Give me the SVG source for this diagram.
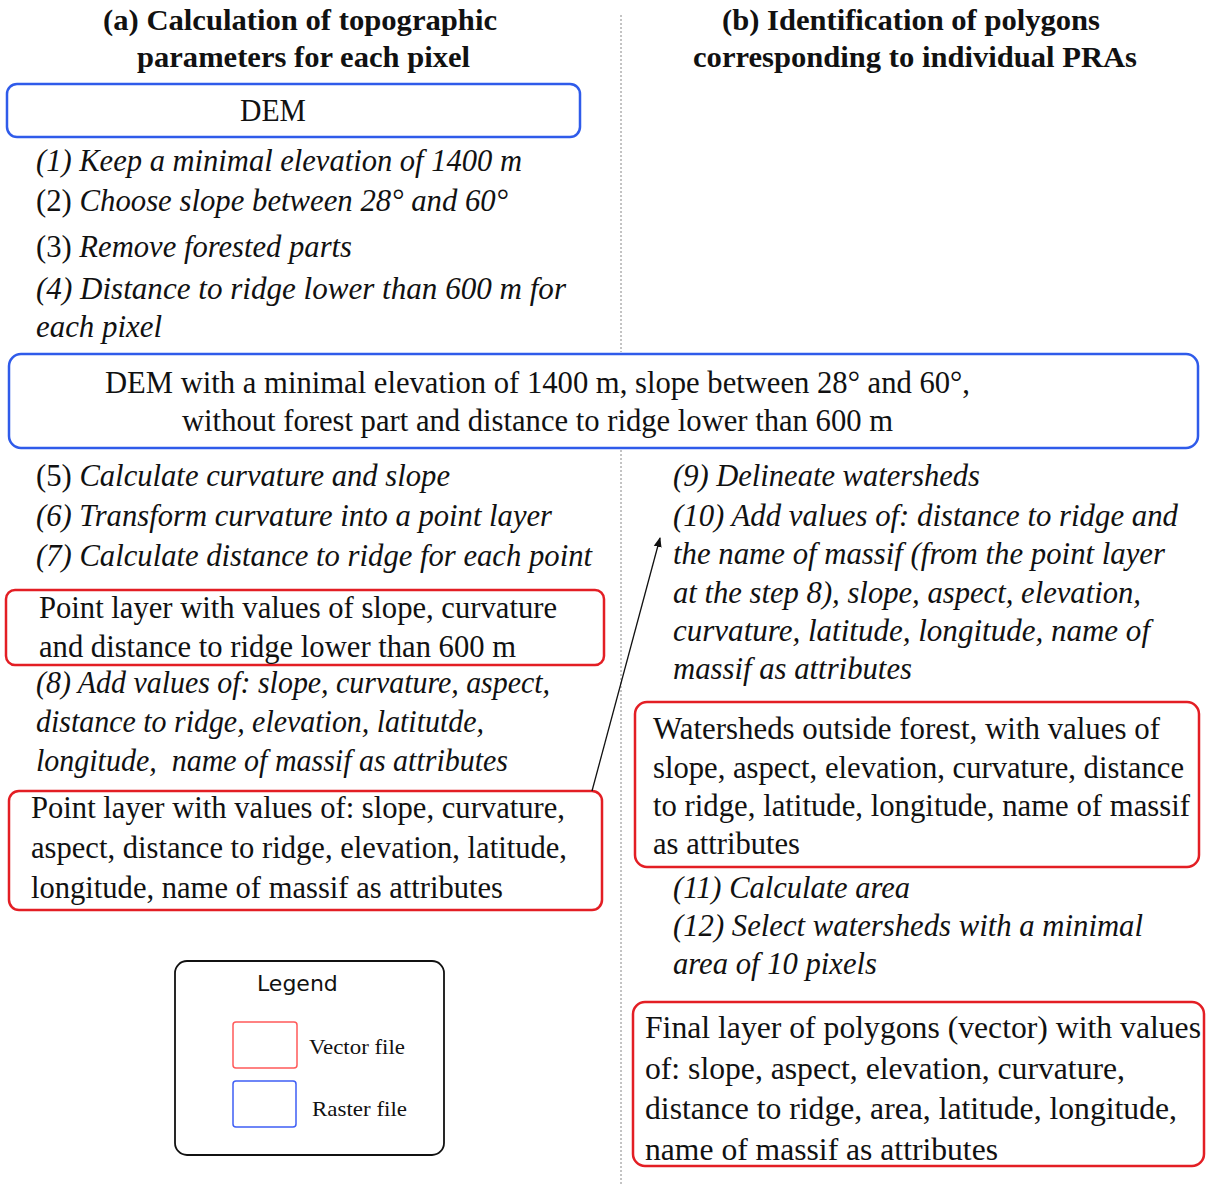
<svg xmlns="http://www.w3.org/2000/svg" width="1207" height="1184" viewBox="0 0 1207 1184">
<defs>
<style>
.t{font-family:"Liberation Serif","Times New Roman",serif;font-size:31px;fill:#111}
.i{font-style:italic}
.n{font-style:normal}
.h{font-weight:bold;font-size:30px}
.blue{fill:#fff;stroke:#2f5bea;stroke-width:2.5}
.red{fill:#fff;stroke:#e31e24;stroke-width:2.5}
.leg{font-family:"DejaVu Sans",sans-serif;font-size:22px;fill:#111}
.lt{font-family:"Liberation Serif",serif;font-size:22px;fill:#111}
</style>
<marker id="ah" viewBox="0 0 10 10" refX="9" refY="5" markerWidth="10" markerHeight="10" markerUnits="userSpaceOnUse" orient="auto">
<path d="M0,1 L10,5 L0,9 z" fill="#111"/>
</marker>
</defs>
<rect width="1207" height="1184" fill="#fff"/>
<g id="divider">
<line x1="621" y1="15" x2="621" y2="352" stroke="#888" stroke-width="1" stroke-dasharray="2,2"/>
<line x1="621" y1="450" x2="621" y2="1184" stroke="#888" stroke-width="1" stroke-dasharray="2,2"/>
</g>
<g id="title-a">
<text class="t h" x="103" y="30" textLength="394" lengthAdjust="spacingAndGlyphs">(a) Calculation of topographic</text>
<text class="t h" x="137" y="67" textLength="333" lengthAdjust="spacingAndGlyphs">parameters for each pixel</text>
</g>
<g id="title-b">
<text class="t h" x="722" y="30" textLength="378" lengthAdjust="spacingAndGlyphs">(b) Identification of polygons</text>
<text class="t h" x="693" y="67" textLength="444" lengthAdjust="spacingAndGlyphs">corresponding to individual PRAs</text>
</g>
<g id="dem">
<rect class="blue" x="7" y="84" width="573" height="53" rx="10"/>
<text class="t" x="240" y="121" textLength="66" lengthAdjust="spacingAndGlyphs">DEM</text>
</g>
<g id="steps-1-4">
<text class="t i" x="36" y="171" textLength="486" lengthAdjust="spacingAndGlyphs">(1) Keep a minimal elevation of 1400 m</text>
<text class="t i" x="36" y="211" textLength="472" lengthAdjust="spacingAndGlyphs"><tspan class="n">(2)</tspan> Choose slope between 28° and 60°</text>
<text class="t i" x="36" y="257" textLength="316" lengthAdjust="spacingAndGlyphs"><tspan class="n">(3)</tspan> Remove forested parts</text>
<text class="t i" x="36" y="299" textLength="530" lengthAdjust="spacingAndGlyphs">(4) Distance to ridge lower than 600 m for</text>
<text class="t i" x="36" y="337" textLength="126" lengthAdjust="spacingAndGlyphs">each pixel</text>
</g>
<g id="dem-filtered">
<rect class="blue" x="9" y="354" width="1189" height="94" rx="12"/>
<text class="t" x="105" y="393" textLength="865" lengthAdjust="spacingAndGlyphs">DEM with a minimal elevation of 1400 m, slope between 28° and 60°,</text>
<text class="t" x="182" y="431" textLength="711" lengthAdjust="spacingAndGlyphs">without forest part and distance to ridge lower than 600 m</text>
</g>
<g id="steps-5-7">
<text class="t i" x="36" y="486" textLength="414" lengthAdjust="spacingAndGlyphs"><tspan class="n">(5)</tspan> Calculate curvature and slope</text>
<text class="t i" x="36" y="526" textLength="516" lengthAdjust="spacingAndGlyphs">(6) Transform curvature into a point layer</text>
<text class="t i" x="36" y="566" textLength="556" lengthAdjust="spacingAndGlyphs">(7) Calculate distance to ridge for each point</text>
</g>
<g id="point-layer-1">
<rect class="red" x="6" y="590" width="598" height="75" rx="9"/>
<text class="t" x="39" y="618" textLength="518" lengthAdjust="spacingAndGlyphs">Point layer with values of slope, curvature</text>
<text class="t" x="39" y="657" textLength="477" lengthAdjust="spacingAndGlyphs">and distance to ridge lower than 600 m</text>
</g>
<g id="step-8">
<text class="t i" x="36" y="693" textLength="514" lengthAdjust="spacingAndGlyphs">(8) Add values of: slope, curvature, aspect,</text>
<text class="t i" x="36" y="732" textLength="448" lengthAdjust="spacingAndGlyphs">distance to ridge, elevation, latitutde,</text>
<text class="t i" x="36" y="771" textLength="472" lengthAdjust="spacingAndGlyphs" xml:space="preserve">longitude,  name of massif as attributes</text>
</g>
<g id="point-layer-2">
<rect class="red" x="9" y="791" width="593" height="119" rx="10"/>
<text class="t" x="31" y="818" textLength="534" lengthAdjust="spacingAndGlyphs">Point layer with values of: slope, curvature,</text>
<text class="t" x="31" y="858" textLength="536" lengthAdjust="spacingAndGlyphs">aspect, distance to ridge, elevation, latitude,</text>
<text class="t" x="31" y="898" textLength="472" lengthAdjust="spacingAndGlyphs">longitude, name of massif as attributes</text>
</g>
<g id="connectors">
<line x1="592" y1="791" x2="660" y2="538" stroke="#111" stroke-width="1.3" marker-end="url(#ah)"/>
</g>
<g id="steps-9-10">
<text class="t i" x="673" y="486" textLength="307" lengthAdjust="spacingAndGlyphs">(9) Delineate watersheds</text>
<text class="t i" x="673" y="526" textLength="505" lengthAdjust="spacingAndGlyphs">(10) Add values of: distance to ridge and</text>
<text class="t i" x="673" y="564" textLength="492" lengthAdjust="spacingAndGlyphs">the name of massif (from the point layer</text>
<text class="t i" x="673" y="603" textLength="468" lengthAdjust="spacingAndGlyphs">at the step 8), slope, aspect, elevation,</text>
<text class="t i" x="673" y="641" textLength="477" lengthAdjust="spacingAndGlyphs">curvature, latitude, longitude, name of</text>
<text class="t i" x="673" y="679" textLength="239" lengthAdjust="spacingAndGlyphs">massif as attributes</text>
</g>
<g id="watersheds">
<rect class="red" x="635" y="702" width="564" height="165" rx="12"/>
<text class="t" x="653" y="739" textLength="507" lengthAdjust="spacingAndGlyphs">Watersheds outside forest, with values of</text>
<text class="t" x="653" y="778" textLength="531" lengthAdjust="spacingAndGlyphs">slope, aspect, elevation, curvature, distance</text>
<text class="t" x="653" y="816" textLength="537" lengthAdjust="spacingAndGlyphs">to ridge, latitude, longitude, name of massif</text>
<text class="t" x="653" y="854" textLength="147" lengthAdjust="spacingAndGlyphs">as attributes</text>
</g>
<g id="steps-11-12">
<text class="t i" x="673" y="898" textLength="237" lengthAdjust="spacingAndGlyphs">(11) Calculate area</text>
<text class="t i" x="673" y="936" textLength="470" lengthAdjust="spacingAndGlyphs">(12) Select watersheds with a minimal</text>
<text class="t i" x="673" y="974" textLength="204" lengthAdjust="spacingAndGlyphs">area of 10 pixels</text>
</g>
<g id="final-layer">
<rect class="red" x="633" y="1002" width="571" height="164" rx="12"/>
<text class="t" x="645" y="1038" textLength="556" lengthAdjust="spacingAndGlyphs">Final layer of polygons (vector) with values</text>
<text class="t" x="645" y="1079" textLength="480" lengthAdjust="spacingAndGlyphs">of: slope, aspect, elevation, curvature,</text>
<text class="t" x="645" y="1119" textLength="532" lengthAdjust="spacingAndGlyphs">distance to ridge, area, latitude, longitude,</text>
<text class="t" x="645" y="1160" textLength="353" lengthAdjust="spacingAndGlyphs">name of massif as attributes</text>
</g>
<g id="legend">
<rect x="175" y="961" width="269" height="194" rx="12" fill="#fff" stroke="#111" stroke-width="1.8"/>
<text class="leg" x="257" y="991">Legend</text>
<rect x="233" y="1022" width="64" height="46" rx="3" fill="#fff" stroke="#ff5a5a" stroke-width="1.5"/>
<text class="lt" x="309" y="1054" textLength="96" lengthAdjust="spacingAndGlyphs">Vector file</text>
<rect x="233" y="1081" width="63" height="46" rx="3" fill="#fff" stroke="#3f5ff5" stroke-width="1.5"/>
<text class="lt" x="312" y="1116" textLength="95" lengthAdjust="spacingAndGlyphs">Raster file</text>
</g>
</svg>
